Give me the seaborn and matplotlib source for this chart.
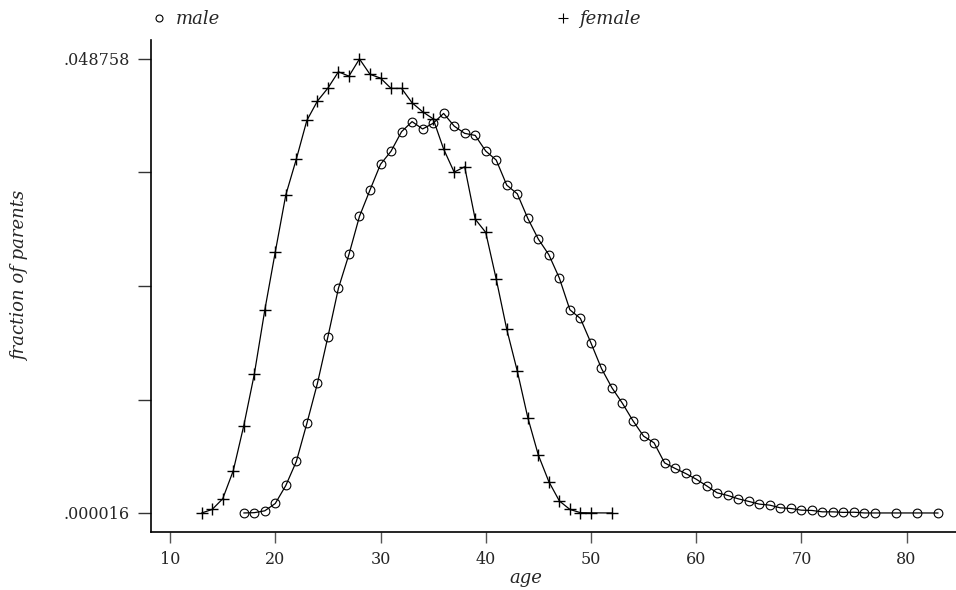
import matplotlib
matplotlib.use("Agg")
import matplotlib.pyplot as plt
from matplotlib.lines import Line2D
import seaborn as sns
import pandas as pd

# male series
male_age = list(range(17, 78)) + [79, 81, 83]
male_frac = [0.00002, 0.00005, 0.00025, 0.00104, 0.00297, 0.00555, 0.00963,
             0.01392, 0.01893, 0.02414, 0.02777, 0.03186, 0.03469, 0.03745,
             0.03885, 0.04095, 0.04203, 0.04124, 0.04185, 0.04291, 0.04155,
             0.04077, 0.04055, 0.03887, 0.03790, 0.03521, 0.03428, 0.03164,
             0.02942, 0.02774, 0.02523, 0.02183, 0.02090, 0.01828, 0.01553,
             0.01345, 0.01178, 0.00991, 0.00827, 0.00755, 0.00540, 0.00480,
             0.00426, 0.00365, 0.00293, 0.00218, 0.00190, 0.00154, 0.00126,
             0.00097, 0.00086, 0.00057, 0.00050, 0.00032, 0.00029, 0.00014,
             0.00014, 0.00008, 0.00010, 0.00002, 0.00002,
             0.00002, 0.00002, 0.000016]

# female series
female_age = list(range(13, 51)) + [52]
female_frac = [0.000016, 0.00040, 0.00154, 0.00454, 0.00937, 0.01489, 0.02179,
               0.02805, 0.03417, 0.03801, 0.04216, 0.04423, 0.04563, 0.04738,
               0.04691, 0.048758, 0.04711, 0.04670, 0.04560, 0.04560, 0.04405,
               0.04309, 0.04233, 0.03908, 0.03661, 0.03718, 0.03156, 0.03014,
               0.02512, 0.01973, 0.01526, 0.01025, 0.00624, 0.00338, 0.00131,
               0.00040, 0.00005, 0.00003, 0.00002]

x_ticks = [10, 20, 30, 40, 50, 60, 70, 80]
y_ticks = [0.000016, 0.0121015, 0.024387, 0.0365725, 0.048758]
y_tick_labels = [".000016", "", "", "", ".048758"]

male = pd.DataFrame({"age": male_age, "frac": male_frac})
female = pd.DataFrame({"age": female_age, "frac": female_frac})

sns.set_style("ticks")
plt.rcParams["font.family"] = ["DejaVu Serif"]

fig = plt.figure(figsize=(9.56, 5.90), dpi=100)
ax = fig.add_axes([0.158, 0.0983, 0.842, 0.834])

sns.lineplot(data=male, x="age", y="frac", ax=ax, color="black", lw=0.9,
             marker="o", markersize=6.3, markerfacecolor="none",
             markeredgecolor="black", markeredgewidth=0.8)
sns.lineplot(data=female, x="age", y="frac", ax=ax, color="black", lw=0.9,
             marker="+", markersize=9, markeredgecolor="black",
             markeredgewidth=1.0)

ax.set_xlim(8.19, 84.7)
ax.set_ylim(-0.002024, 0.050798)
ax.set_xticks(x_ticks)
ax.set_xticklabels([str(t) for t in x_ticks], fontsize=11.5)
ax.set_yticks(y_ticks)
ax.set_yticklabels(y_tick_labels, fontsize=11.5)
ax.tick_params(axis="x", length=8, width=1.0, color="#555555", pad=6)
ax.tick_params(axis="y", length=9.5, width=1.0, color="#333333", pad=6)

sns.despine(ax=ax)
for side in ["left", "bottom"]:
    ax.spines[side].set_linewidth(1.2)
    ax.spines[side].set_color("black")

ax.set_xlabel("age", fontsize=13, style="italic")
ax.xaxis.set_label_coords(0.465, -0.075)
ax.set_ylabel("fraction of parents", fontsize=13, style="italic")
ax.yaxis.set_label_coords(-0.152, 0.52)

handles = [Line2D([], [], color="black", marker="o", markerfacecolor="none",
                  markersize=5, markeredgewidth=0.8, linestyle="none"),
           Line2D([], [], color="black", marker="+", markersize=7,
                  markeredgewidth=0.8, linestyle="none")]
fig.legend(handles, ["male", "female"], ncol=2, frameon=False,
           loc="upper left", bbox_to_anchor=(0.142, 1.01),
           prop={"size": 13, "style": "italic"},
           handlelength=0.8, handletextpad=0.5, columnspacing=18.6)

fig.savefig("out.png", dpi=100)
